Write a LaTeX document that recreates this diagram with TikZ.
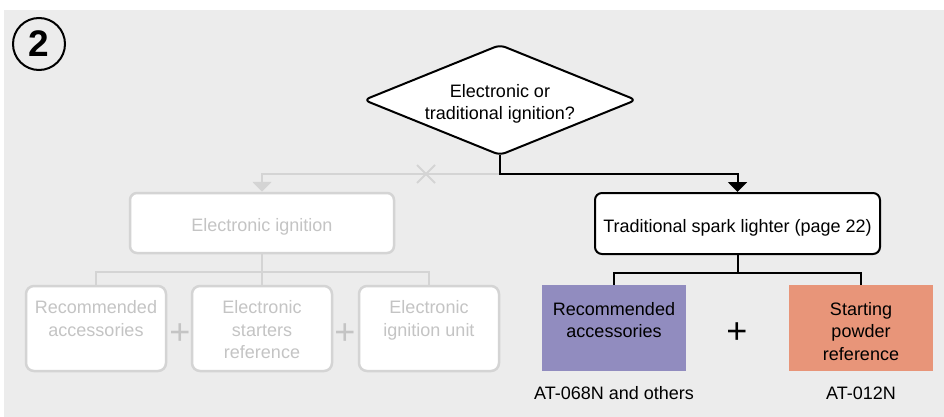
\documentclass[tikz,border=0pt]{standalone}
\usepackage{fontspec}
\setmainfont{Liberation Sans}
\usetikzlibrary{positioning, arrows.meta}
\definecolor{panel}{HTML}{ECECEC}
\definecolor{fadeline}{HTML}{D4D4D4}
\definecolor{fadetext}{HTML}{C4C4C4}
\definecolor{accpurple}{HTML}{918CBF}
\definecolor{powderorange}{HTML}{E89579}
\begin{document}
\begin{tikzpicture}[x = 1pt, y = -1pt, font = \fontsize{18}{22.5}\selectfont,
        box/.style = {draw, line width = 2pt, rounded corners = 7pt, fill = white, align = center, text height = 17pt, text depth = 0pt},
        fadebox/.style = {draw = fadeline, line width = 2.5pt, rounded corners = 8pt, fill = white, minimum width = 140pt, minimum height = 85pt},
        fadelabel/.style = {text = fadetext, align = center, inner sep = 0pt},
        colbox/.style = {minimum width = 144pt, minimum height = 86pt},
        collabel/.style = {align = center, inner sep = 0pt},
        plus/.style = {font = \fontsize{36}{36}\selectfont, inner sep = 0pt},
        tip/.style = {-{Triangle[width = 19pt, length = 10pt]}}]
            \useasboundingbox (0, 0) rectangle (944, 417);
            \fill [panel] (4, 10) rectangle (944, 417);
            \node (step) [circle, draw, line width = 2pt, minimum size = 52pt, inner sep = 0pt, font = \bfseries\fontsize{37}{37}\selectfont] at (39, 44) {2};

            \draw [line width = 2pt, fill = white, rounded corners = 6pt] (364, 100) -- (500, 45) -- (636, 100) -- (500, 155) -- cycle;
            \node (question) [align = center] at (500, 104) {Electronic or\\traditional ignition?};
            \coordinate (qbot) at (500, 155);
            \coordinate (cut) at (426, 174);

            \node (eign) [box, draw = fadeline, text = fadetext, line width = 2.5pt, minimum width = 264pt, minimum height = 60pt] at (262, 223) {Electronic ignition};
            \node (trad) [box, minimum width = 285pt, minimum height = 61pt] at (737.5, 223.5) {Traditional spark lighter (page 22)};

            \draw [fadeline, line width = 2pt, tip] (qbot) -- ++(0, 19) -| (eign.north);
            \draw [fadeline, line width = 2pt] (cut) +(-9, -9) -- +(9, 9) (cut) +(-9, 9) -- +(9, -9);
            \draw [line width = 2pt, tip] (qbot) -- ++(0, 19) -| (trad.north);

            \node (accL) [fadebox] at (96, 328.5) {};
            \node (startL) [fadebox] at (262, 328.5) {};
            \node (unitL) [fadebox] at (429, 328.5) {};
            \node (accLtext) [fadelabel, below = 16pt of accL.north] {Recommended\\accessories};
            \node (startLtext) [fadelabel, below = 16pt of startL.north] {Electronic\\starters\\reference};
            \node (unitLtext) [fadelabel, below = 16pt of unitL.north] {Electronic\\ignition unit};
            \node (plusA) [plus, text = fadetext] at (180, 334) {+};
            \node (plusB) [plus, text = fadetext] at (345, 334) {+};
            \draw [fadeline, line width = 2pt] (eign.south) -- ++(0, 18) -| (accL.north);
            \draw [fadeline, line width = 2pt] (eign.south) -- (startL.north);
            \draw [fadeline, line width = 2pt] (eign.south) -- ++(0, 18) -| (unitL.north);

            \node (accR) [colbox, fill = accpurple] at (614, 328) {};
            \node (powder) [colbox, fill = powderorange] at (861, 328) {};
            \node (accRtext) [collabel, below = 17pt of accR.north] {Recommended\\accessories};
            \node (powdertext) [collabel, below = 17pt of powder.north] {Starting\\powder\\reference};
            \node (plusC) [plus] at (737, 333) {+};
            \draw [line width = 2pt] (trad.south) -- ++(0, 18) -| (accR.north);
            \draw [line width = 2pt] (trad.south) -- ++(0, 18) -| (powder.north);

            \node (refA) at (614, 393) {AT-068N and others};
            \node (refB) at (861, 393) {AT-012N};
        \end{tikzpicture}
\end{document}
